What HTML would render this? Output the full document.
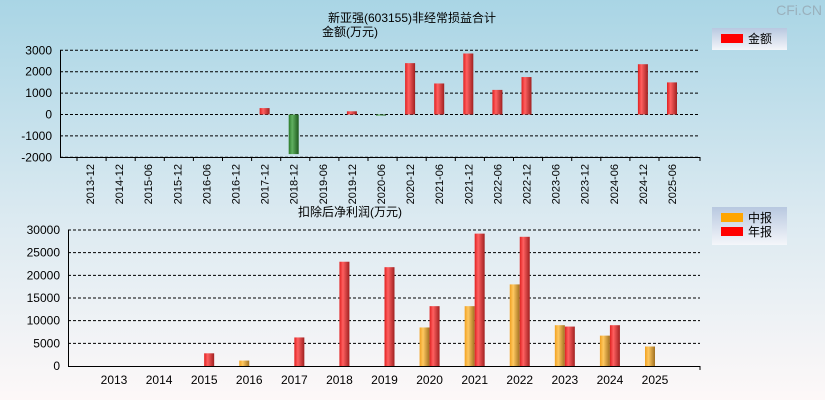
<!DOCTYPE html>
<html style="margin:0;height:400px;overflow:hidden"><head><meta charset="utf-8"><style>
body{margin:0;width:825px;height:400px;overflow:hidden;background:linear-gradient(#a9d5e5,#dceaf1 55%,#fdf8f8);font-family:"Liberation Sans","Noto Sans CJK SC",sans-serif;}
svg{display:block}
svg text{font-family:"Liberation Sans","Noto Sans CJK SC",sans-serif;}
</style></head><body>
<svg id="c" width="825" height="400">
<defs>
<linearGradient id="gr" x1="0" x2="1"><stop offset="0" stop-color="#e02020"/><stop offset="0.35" stop-color="#ff6060"/><stop offset="1" stop-color="#a02020"/></linearGradient>
<linearGradient id="gg" x1="0" x2="1"><stop offset="0" stop-color="#2a7a2a"/><stop offset="0.35" stop-color="#60b060"/><stop offset="1" stop-color="#1e5a1e"/></linearGradient>
<linearGradient id="go" x1="0" x2="1"><stop offset="0" stop-color="#f0a020"/><stop offset="0.35" stop-color="#ffc860"/><stop offset="1" stop-color="#a07020"/></linearGradient>
<linearGradient id="lg" x1="0" y1="0" x2="0" y2="1"><stop offset="0" stop-color="#b8c8e0"/><stop offset="1" stop-color="#f4f6fa"/></linearGradient>
</defs>
<text x="412" y="22" font-size="12" text-anchor="middle">新亚强(603155)非经常损益合计</text>
<text x="350" y="36" font-size="12" text-anchor="middle">金额(万元)</text>
<text x="350" y="216" font-size="12" text-anchor="middle">扣除后净利润(万元)</text>
<text x="822" y="15" font-size="14" fill="#9ab0bc" text-anchor="end">CFi.CN</text>
<g><rect x="712" y="28" width="75" height="22" fill="url(#lg)"/><rect x="721" y="34" width="22" height="9" fill="#ff0000"/><text x="748" y="43" font-size="12">金额</text></g>
<g><rect x="712" y="207" width="75" height="38" fill="url(#lg)"/><rect x="721" y="213" width="22" height="9" fill="#ffa500"/><text x="748" y="222" font-size="12">中报</text><rect x="721" y="227" width="22" height="9" fill="#ff0000"/><text x="748" y="236" font-size="12">年报</text></g>
<g id="top"></g><g id="bot"></g>
</svg>
<script>
const topCats=["2013-12","2014-12","2015-06","2015-12","2016-06","2016-12","2017-12","2018-12","2019-06","2019-12","2020-06","2020-12","2021-06","2021-12","2022-06","2022-12","2023-06","2023-12","2024-06","2024-12","2025-06"];
const topVals=[0,0,0,0,0,0,300,-1850,0,150,-50,2400,1450,2850,1150,1750,0,0,0,2350,1500];
const topTicks=[3000,2000,1000,0,-1000,-2000];
const botCats=["2013","2014","2015","2016","2017","2018","2019","2020","2021","2022","2023","2024","2025"];
const botHalf=[null,null,null,1200,null,null,null,8500,13200,18000,9000,6700,4300];
const botYear=[null,null,2800,null,6300,23000,21800,13200,29200,28500,8700,9000,null];
const botTicks=[30000,25000,20000,15000,10000,5000,0];
const NS="http://www.w3.org/2000/svg";
function mk(p,t,a){const e=document.createElementNS(NS,t);for(const k in a)e.setAttribute(k,a[k]);p.appendChild(e);return e;}
const T=document.getElementById('top');
const tx=i=>90+i*(672-90)/(topCats.length-1);
const ty=v=>114.5-v*(107/5000);
topTicks.forEach(v=>{const y=ty(v);
 const l=mk(T,'line',{x1:60,x2:700,y1:y,y2:y,stroke:'#000','stroke-dasharray':'3,2'});
 
 
 const t=mk(T,'text',{x:52,y:y+4,'font-size':12,'text-anchor':'end'});t.textContent=v;
 
 });
mk(T,'line',{x1:60.5,x2:60.5,y1:ty(3000),y2:ty(-2000),stroke:'#000'});
mk(T,'line',{x1:60,x2:700,y1:157.5,y2:157.5,stroke:'#000'});
topCats.forEach((c,i)=>{const x=tx(i);
 mk(T,'line',{x1:x-13,x2:x-13,y1:157,y2:161,stroke:'#000'});
 const t=mk(T,'text',{x:0,y:0,'font-size':11,'text-anchor':'end',transform:`translate(${x+4},164) rotate(-90)`});t.textContent=c;
 
 
 const v=topVals[i]; if(!v)return;
 const y0=ty(0),y1=ty(v);
 const r=mk(T,'rect',{x:x-5,y:Math.min(y0,y1),width:10,height:Math.max(1,Math.abs(y1-y0)),fill:v>0?'url(#gr)':'url(#gg)'});
 
 });
mk(T,'line',{x1:700,x2:700,y1:157,y2:161,stroke:'#000'});
const B=document.getElementById('bot');
const bx=i=>114+i*(655-114)/(botCats.length-1);
const by=v=>366-v*(136/30000);
botTicks.forEach(v=>{const y=by(v);
 if(v>0){const l=mk(B,'line',{x1:68,x2:700,y1:y,y2:y,stroke:'#000','stroke-dasharray':'3,2'});
 
 }
 const t=mk(B,'text',{x:60,y:y+4,'font-size':12,'text-anchor':'end'});t.textContent=v;
 
 });
mk(B,'line',{x1:68.5,x2:68.5,y1:by(30000),y2:366,stroke:'#000'});
mk(B,'line',{x1:68,x2:700,y1:366.5,y2:366.5,stroke:'#000'});
mk(B,'line',{x1:700,x2:700,y1:366,y2:370,stroke:'#000'});
botCats.forEach((c,i)=>{const x=bx(i);
 const t=mk(B,'text',{x:x,y:384,'font-size':12,'text-anchor':'middle'});t.textContent=c;
 
 
 if(botHalf[i]!=null){const r=mk(B,'rect',{x:x-10,y:by(botHalf[i]),width:10,height:366-by(botHalf[i]),fill:'url(#go)'});
  
  }
 if(botYear[i]!=null){const r=mk(B,'rect',{x:x,y:by(botYear[i]),width:10,height:366-by(botYear[i]),fill:'url(#gr)'});
  
  }
});
</script>
</body></html>
